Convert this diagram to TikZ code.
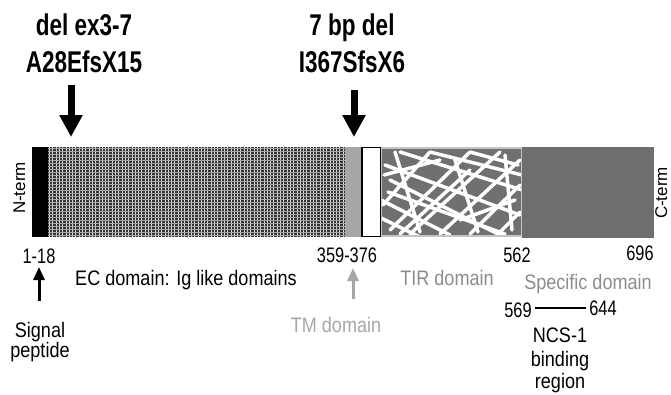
\documentclass[tikz,border=0pt]{standalone}
\usepackage{fontspec}
\setmainfont{Liberation Sans}
\usetikzlibrary{arrows.meta}
\definecolor{tmgrey}{HTML}{A6A6A6}
\definecolor{lblgrey}{HTML}{8C8C8C}
\definecolor{tirgrey}{HTML}{707070}
\definecolor{specgrey}{HTML}{6E6E6E}
\definecolor{dotgrey}{HTML}{333333}
\definecolor{edgegrey}{HTML}{C4C4C4}
\begin{document}
\begin{tikzpicture}[x=1pt,y=-1pt,
  big/.style={font=\fontsize{30}{30}\selectfont\bfseries, xscale=0.75, anchor=base, inner sep=0pt},
  lbl/.style={font=\fontsize{21}{21}\selectfont, xscale=0.86, anchor=base, inner sep=0pt},
  num/.style={font=\fontsize{21}{21}\selectfont, xscale=0.78, anchor=base, inner sep=0pt},
  vlbl/.style={font=\fontsize{17}{17}\selectfont, rotate=90, anchor=base, inner sep=0pt},
  bigarrow/.style={line width=7pt, -{Triangle[width=22pt,length=22pt]}},
  smallarrow/.style={line width=3pt, -{Triangle[width=11pt,length=13pt]}},
  scribble/.style={white, line width=3.5pt, line cap=round}]
\useasboundingbox (0,0) rectangle (671,394);
% ---- protein bar ----
\fill[black] (32,147) rectangle (48,237);
\fill[dotgrey] (48,147) rectangle (345,237);
\begin{scope}
  \clip (48,147) rectangle (345,237);
  \foreach \x in {49.5,52.8,...,346} \draw[white!85!black, line width=0.9pt] (\x,147) -- (\x,237);
  \foreach \y in {148.5,151.5,...,237} \draw[white!65!black, line width=0.6pt] (48,\y) -- (345,\y);
\end{scope}
\fill[tmgrey] (345,147) rectangle (362,237);
\draw[black, line width=1.3pt, fill=white] (362,147.5) rectangle (380.5,236.5);
\fill[tirgrey] (381,147) rectangle (522,237);
\begin{scope}
  \clip (381,147) rectangle (522,237);
  \draw[scribble] (385,165) -- (520,215);
  \draw[scribble] (390,180) -- (500,235);
  \draw[scribble] (400,152) -- (522,190);
  \draw[scribble] (381,200) -- (450,235);
  \draw[scribble] (430,152) -- (522,175);
  \draw[scribble] (381,218) -- (420,237);
  \draw[scribble] (470,152) -- (518,165);
  \draw[scribble] (388,192) -- (505,234);
  \draw[scribble] (390,230) -- (470,152);
  \draw[scribble] (410,234) -- (500,152);
  \draw[scribble] (440,234) -- (520,160);
  \draw[scribble] (383,205) -- (430,152);
  \draw[scribble] (470,234) -- (520,185);
  \draw[scribble] (400,234) -- (470,170);
  \draw[scribble] (498,234) -- (520,212);
  \draw[scribble] (395,152) -- (420,232);
  \draw[scribble] (455,160) -- (478,232);
  \draw[scribble] (505,155) -- (512,230);
  \draw[scribble] (384,175) -- (440,160);
  \draw[scribble] (460,220) -- (515,200);
\end{scope}
\draw[edgegrey, line width=1.5pt] (381.5,147.8) rectangle (521.5,236.2);
\fill[specgrey] (522,147) rectangle (654,238);
% ---- end labels ----
\node[vlbl] (nterm) at (25,188) {N-term};
\node[vlbl] (cterm) at (667,193) {C-term};
% ---- mutation labels ----
\node[big] (m1a) at (84,35) {del ex3-7};
\node[big] (m1b) at (84,72) {A28EfsX15};
\node[big] (m2a) at (352,35) {7 bp del};
\node[big] (m2b) at (352,72) {I367SfsX6};
\coordinate (a1s) at (71,85);
\coordinate (a1e) at (71,137);
\coordinate (a2s) at (354,90);
\coordinate (a2e) at (354,137);
\draw[bigarrow] (a1s) -- (a1e);
\draw[bigarrow] (a2s) -- (a2e);
% ---- position / domain labels ----
\node[num] (p1) at (39,263) {1-18};
\node[lbl] (ec) at (186,285) {EC domain: Ig like domains};
\node[num] (p359) at (347,262) {359-376};
\node[num] (p562) at (517,262) {562};
\node[num] (p696) at (640,260) {696};
\node[lbl, text=lblgrey] (tir) at (447,285) {TIR domain};
\node[lbl, text=lblgrey] (spec) at (588,289) {Specific domain};
\node[lbl, text=tmgrey] (tm) at (336,332) {TM domain};
\node[lbl] (sig1) at (40,337) {Signal};
\node[lbl] (sig2) at (40,357) {peptide};
\coordinate (s1s) at (39,301);
\coordinate (s1e) at (39,267);
\coordinate (s2s) at (353,299);
\coordinate (s2e) at (353,268);
\draw[smallarrow] (s1s) -- (s1e);
\draw[smallarrow, tmgrey] (s2s) -- (s2e);
\node[num] (p569) at (518,317) {569};
\node[num] (p644) at (603,315) {644};
\coordinate (ncsA) at (535,308);
\coordinate (ncsB) at (586,308);
\draw[black, line width=2.5pt] (ncsA) -- (ncsB);
\node[lbl] (ncs1) at (560,342) {NCS-1};
\node[lbl] (ncs2) at (560,366) {binding};
\node[lbl] (ncs3) at (560,388) {region};
\end{tikzpicture}
\end{document}
